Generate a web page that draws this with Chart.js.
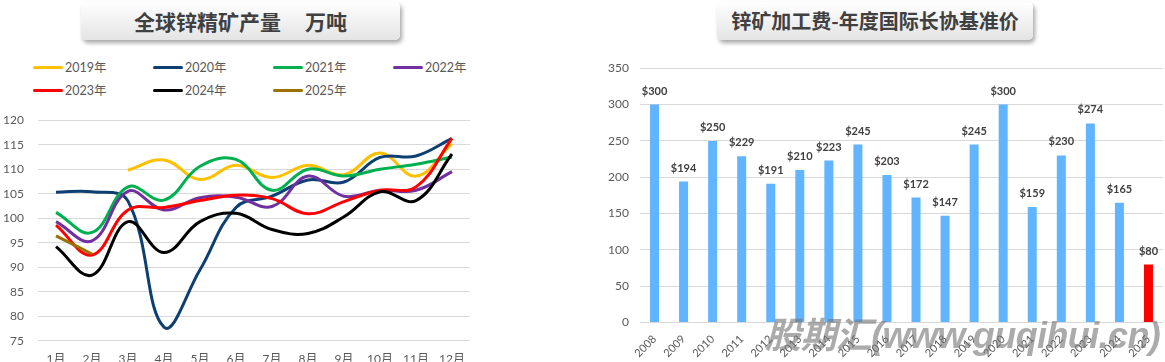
<!DOCTYPE html>
<html>
<head>
<meta charset="utf-8">
<script src="https://cdn.jsdelivr.net/npm/chart.js@4/dist/chart.umd.min.js"></script>
<style>
  body { margin: 0; width: 1165px; height: 362px; overflow: hidden; background: #fff; position: relative;
         font-family: "Noto Sans CJK SC", Lato, sans-serif; }
  .titulo { position: absolute; top: 2px; height: 38px; border-radius: 5px;
            background: linear-gradient(#ffffff, #e4e4e4); box-shadow: 2px 3px 4px rgba(0,0,0,0.35);
            font-weight: bold; font-size: 21px; color: #404040; text-align: center; line-height: 38px; white-space: pre; }
  #legenda { position: absolute; left: 33px; top: 58px; width: 480px; }
  .item { position: absolute; font-size: 12.5px; color: #595959; font-family: Lato, "Noto Sans CJK SC", sans-serif; line-height: 20px; }
  .item i { display: inline-block; width: 30px; height: 3px; border-radius: 2px; vertical-align: middle; margin-right: 2px; position: relative; top: -1px; }
  .caixa { position: absolute; }
  #marca { position: absolute; left: 765px; top: 306px; font-size: 36px; font-weight: bold; font-style: italic; letter-spacing: -0.6px;
           color: rgba(115,115,115,0.6); font-family: "Liberation Sans", "Noto Sans CJK SC", sans-serif; white-space: nowrap; }
</style>
</head>
<body>
<div class="titulo" style="left:81px; width:319px;">全球锌精矿产量<span style="margin-left:24px">万吨</span></div>
<div class="titulo" style="left:717px; width:316px; font-size:20px;">锌矿加工费-年度国际长协基准价</div>
<div id="legenda"></div>
<div class="caixa" style="left:0; top:99px; width:480px; height:263px;"><canvas id="grafico-producao"></canvas></div>
<div class="caixa" style="left:598px; top:50px; width:567px; height:312px;"><canvas id="grafico-tc"></canvas></div>
<div id="marca">股期汇(www.guqihui.cn)</div>

<script>
// Produção mensal (万吨)
const meses = ['1月', '2月', '3月', '4月', '5月', '6月', '7月', '8月', '9月', '10月', '11月', '12月'];
const anos = ['2019年', '2020年', '2021年', '2022年', '2023年', '2024年', '2025年'];
const prod2019 = [null, null, 109.8, 111.9, 107.9, 110.8, 108.3, 110.8, 108.9, 113.3, 108.6, 115.2];
const prod2020 = [105.3, 105.4, 103.5, 77.8, 89.5, 102.2, 104.5, 107.8, 107.4, 112.4, 112.7, 116.3];
const prod2021 = [101.2, 97.1, 106.4, 103.7, 110.6, 112.0, 105.7, 110.0, 108.6, 110.0, 111.0, 112.5];
const prod2022 = [99.3, 95.4, 105.5, 101.7, 104.2, 104.3, 102.4, 108.6, 104.5, 105.7, 105.7, 109.5];
const prod2023 = [98.6, 92.5, 101.7, 102.2, 103.6, 104.7, 104.0, 100.9, 103.4, 105.7, 106.4, 116.3];
const prod2024 = [94.2, 88.4, 99.3, 93.0, 99.3, 101.0, 97.7, 96.9, 100.3, 105.4, 103.6, 113.1];
const prod2025 = [96.4, 92.7];

// TC anual
const anosTc = ['2008', '2009', '2010', '2011', '2012', '2013', '2014', '2015', '2016',
  '2017', '2018', '2019', '2020', '2021', '2022', '2023', '2024', '2025'];
const taxas = [300, 194, 250, 229, 191, 210, 223, 245, 203, 172, 147, 245, 300, 159, 230, 274, 165, 80];

const series = [prod2019, prod2020, prod2021, prod2022, prod2023, prod2024, prod2025];
const cores = ['#ffc000', '#0d3f73', '#00b050', '#7030a0', '#ff0000', '#000000', '#9a7200'];
const fonte = 'Lato, "Noto Sans CJK SC", sans-serif';

// Legenda em grade (4 colunas)
const legenda = document.getElementById('legenda');
anos.forEach((ano, i) => {
  const el = document.createElement('div');
  el.className = 'item';
  el.style.left = (i % 4) * 120 + 'px';
  el.style.top = Math.floor(i / 4) * 23 + 'px';
  el.innerHTML = `<i style="background:${cores[i]}"></i>${ano}`;
  legenda.appendChild(el);
});

new Chart(document.getElementById('grafico-producao'), {
  type: 'line',
  data: {
    labels: meses,
    datasets: series.map((dados, i) => ({
      label: anos[i],
      data: dados,
      borderColor: cores[i],
      borderWidth: 3,
      tension: 0.4,
      pointRadius: 0,
      fill: false,
      order: anos.length - i
    }))
  },
  options: {
    responsive: true,
    maintainAspectRatio: false,
    animation: false,
    layout: { padding: { top: 8, right: 10, left: 0 } },
    plugins: { legend: { display: false }, tooltip: { enabled: false } },
    scales: {
      x: {
        offset: true,
        afterFit: (escala) => { escala.height = 21; },
        grid: { display: false, drawTicks: false },
        border: { display: false },
        ticks: { color: '#595959', font: { family: fonte, size: 12 }, padding: 11 }
      },
      y: {
        min: 75,
        max: 120,
        afterFit: (escala) => { escala.width = 38; },
        ticks: { stepSize: 5, color: '#595959', font: { family: fonte, size: 12 }, padding: 14 },
        grid: { color: '#d9d9d9', drawTicks: false },
        border: { display: false }
      }
    }
  }
});

// Rótulos "$xxx" em cima das barras
const rotulos = {
  id: 'rotulos',
  afterDatasetsDraw(chart) {
    const ctx = chart.ctx;
    const meta = chart.getDatasetMeta(0);
    ctx.save();
    ctx.font = 'bold 11px ' + fonte;
    ctx.fillStyle = '#404040';
    ctx.textAlign = 'center';
    ctx.textBaseline = 'bottom';
    meta.data.forEach((barra, i) => {
      ctx.fillText('$' + taxas[i], barra.x, barra.y - 8);
    });
    ctx.restore();
  }
};

new Chart(document.getElementById('grafico-tc'), {
  type: 'bar',
  data: {
    labels: anosTc,
    datasets: [{
      data: taxas,
      backgroundColor: anosTc.map(a => a === '2025' ? '#ff0000' : '#61b4ff'),
      barPercentage: 0.31,
      categoryPercentage: 1
    }]
  },
  options: {
    responsive: true,
    maintainAspectRatio: false,
    animation: false,
    layout: { padding: { top: 6, right: 2, bottom: 0 } },
    plugins: { legend: { display: false }, tooltip: { enabled: false } },
    scales: {
      x: {
        grid: { display: false },
        border: { display: false },
        ticks: { color: '#595959', font: { family: fonte, size: 11 }, minRotation: 45, maxRotation: 45, padding: 2 }
      },
      y: {
        min: 0,
        max: 350,
        afterFit: (escala) => { escala.width = 42; },
        ticks: { stepSize: 50, color: '#595959', font: { family: fonte, size: 12 }, padding: 11 },
        grid: { color: '#d9d9d9', drawTicks: false },
        border: { display: false }
      }
    }
  },
  plugins: [rotulos]
});
</script>
</body>
</html>
